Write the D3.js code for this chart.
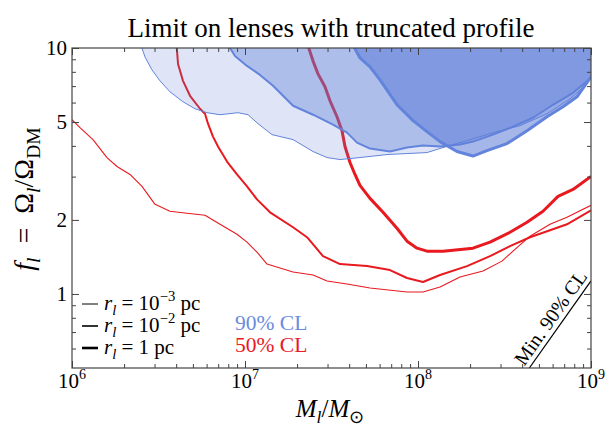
<!DOCTYPE html>
<html><head><meta charset="utf-8">
<script src="https://cdn.jsdelivr.net/npm/d3@7"></script>
<style>body{margin:0;background:#fff}svg{display:block}text{font-family:"Liberation Serif","Times New Roman",serif;fill:#000}</style>
</head><body><svg id="c" width="615" height="431"></svg>
<script>
// ---- data (M_l / M_sun , f_l) ----
const xTicks = [1e6, 1e7, 1e8, 1e9];
const xTickExp = ["6", "7", "8", "9"];
const yTicks = [1, 2, 5, 10];
const yTickLabels = ["1", "2", "5", "10"];

// 50% CL, r_l = 1e-3 pc (thin red)
const redThinM = [1e6,1.112e6,1.322e6,1.593e6,1.820e6,2.164e6,2.539e6,3.018e6,3.686e6,4.620e6,5.873e6,7.170e6,8.990e6,1.027e7,1.173e7,1.341e7,1.895e7,2.473e7,2.979e7,3.887e7,5.279e7,8.639e7,1.069e8,1.341e8,1.749e8,2.376e8,3.059e8,3.541e8,4.440e8,5.795e8,7.264e8,1e9];
const redThinF = [5.11,4.745,4.242,3.586,3.298,3.061,2.736,2.314,2.168,2.128,2.088,1.920,1.749,1.624,1.479,1.323,1.228,1.194,1.129,1.098,1.057,1.019,1.019,1.067,1.172,1.239,1.360,1.493,1.718,1.920,2.050,2.293];
// 50% CL, r_l = 1e-2 pc (medium red)
const redMedM = [4.018e6,4.101e6,4.382e6,4.810e6,5.494e6,5.873e6,6.111e6,6.531e6,6.982e6,7.870e6,8.990e6,1.027e7,1.173e7,1.395e7,1.895e7,2.283e7,2.824e7,3.541e7,5.073e7,6.889e7,8.639e7,1.069e8,1.341e8,1.920e8,2.608e8,3.403e8,4.440e8,5.795e8,7.264e8,1e9];
const redMedF = [10.38,8.614,7.353,6.393,5.662,5.405,4.924,4.362,3.974,3.455,3.061,2.736,2.424,2.148,1.867,1.701,1.425,1.323,1.298,1.251,1.161,1.118,1.194,1.298,1.425,1.564,1.701,1.816,1.920,2.188];
// 50% CL, r_l = 1 pc (thick red)
const redThickM = [2.298e7,2.473e7,2.642e7,2.900e7,3.099e7,3.402e7,3.636e7,3.784e7,4.045e7,4.323e7,4.620e7,5.279e7,6.277e7,7.559e7,8.639e7,9.867e7,1.127e8,1.395e8,2.079e8,2.608e8,3.403e8,4.267e8,5.279e8,6.446e8,7.870e8,1e9];
const redThickF = [10.38,8.858,7.847,6.953,6.102,5.254,4.613,3.974,3.423,3.061,2.763,2.447,2.148,1.850,1.639,1.535,1.493,1.493,1.535,1.624,1.782,1.956,2.168,2.493,2.661,3.004];
// 90% CL, r_l = 1e-3 pc (light region)
const blueThinM = [2.489e6,2.642e6,2.900e6,3.226e6,3.686e6,4.382e6,5.140e6,6.031e6,7.170e6,9.111e6,1.041e7,1.189e7,1.433e7,1.895e7,2.473e7,2.979e7,3.541e7,4.620e7,6.618e7,1.127e8,1.395e8,1.920e8,2.861e8,3.887e8,5.568e8,7.564e8,8.991e8,1e9];
const blueThinF = [10.38,9.196,8.146,7.353,6.635,6.045,5.662,5.456,5.355,5.456,5.355,4.924,4.444,4.242,3.794,3.586,3.520,3.586,3.688,3.757,3.937,4.203,4.571,4.833,5.405,6.217,6.888,7.630];
// 90% CL, r_l = 1e-2 pc (medium region)
const blueMedM = [7.922e6,8.753e6,1.027e7,1.221e7,1.452e7,1.895e7,2.473e7,3.226e7,3.887e7,4.440e7,5.279e7,6.889e7,8.639e7,1.069e8,1.341e8,1.749e8,2.079e8,2.713e8,3.541e8,4.620e8,6.031e8,7.870e8,1e9];
const blueMedF = [10.38,9.282,8.456,7.772,7.018,5.824,5.355,4.879,4.528,4.125,3.901,3.794,3.937,4.012,3.974,4.049,4.164,4.444,4.788,5.206,5.877,6.573,7.559];
// 90% CL, r_l = 1 pc (dark region)
const blueThickM = [4.182e7,4.620e7,5.279e7,6.031e7,7.559e7,9.357e7,1.127e8,1.341e8,1.680e8,2.079e8,2.504e8,3.268e8,4.267e8,5.568e8,6.890e8,8.300e8,1e9];
const blueThickF = [10.38,9.110,8.378,7.421,5.877,5.064,4.571,4.164,3.794,3.637,3.828,4.087,4.613,5.254,5.769,6.333,7.630];
// minimum 90% CL line
const minM = [4.4e8, 1e9];
const minF = [0.5, 1.13];

// ---- drawing ----
const RED = "#e8191f", BLUE = "#5f7dd7", BLUEL = "#6384dc";
const L = 72, R = 591, T = 48, B = 368;
const svg = d3.select("#c");
const x = d3.scaleLog().domain([1e6, 1e9]).range([L, R]);
const y = d3.scaleLog().domain([0.5, 10]).range([B, T]);
const zip = (a, b) => a.map((v, i) => [v, b[i]]);
const line = d3.line().x(d => x(d[0])).y(d => y(d[1]));
const area = d3.area().x(d => x(d[0])).y0(d => y(d[1])).y1(() => T - 30);

svg.append("clipPath").attr("id", "clip").append("rect")
  .attr("x", L).attr("y", T).attr("width", R - L).attr("height", B - T);
const plot = svg.append("g").attr("clip-path", "url(#clip)");

// red 50% CL lines
[[redThinM, redThinF, 1.1], [redMedM, redMedF, 2], [redThickM, redThickF, 3]].forEach(([m, f, w]) => {
  plot.append("path").attr("d", line(zip(m, f))).attr("fill", "none")
    .attr("stroke", RED).attr("stroke-width", w).attr("stroke-linejoin", "round");
});
// blue 90% CL regions
[[blueThinM, blueThinF, 0.2, 1], [blueMedM, blueMedF, 0.38, 2], [blueThickM, blueThickF, 0.56, 3]].forEach(([m, f, op, w]) => {
  const d = zip(m, f);
  plot.append("path").attr("d", area(d)).attr("fill", BLUE).attr("fill-opacity", op);
  plot.append("path").attr("d", line(d)).attr("fill", "none")
    .attr("stroke", BLUEL).attr("stroke-width", w).attr("stroke-linejoin", "round");
});
// min 90% CL line
const mp = zip(minM, minF);
plot.append("path").attr("d", line(mp)).attr("fill", "none").attr("stroke", "#000").attr("stroke-width", 1.2);
{
  const p1 = [x(mp[0][0]), y(mp[0][1])], p2 = [x(mp[1][0]), y(mp[1][1])];
  const dx = p2[0] - p1[0], dy = p2[1] - p1[1], len = Math.hypot(dx, dy);
  const ux = dx / len, uy = dy / len;
  const t = 0.5;
  const ang = Math.atan2(dy, dx) * 180 / Math.PI;
  svg.append("text").attr("transform", `translate(${p1[0] + dx * t + 5 * uy},${p1[1] + dy * t - 5 * ux}) rotate(${ang})`)
    .attr("text-anchor", "middle").attr("font-size", 20).text("Min. 90% CL");
}

// ---- axes ----
const minorX = [];
for (let e = 6; e < 9; e++) for (let k = 2; k <= 9; k++) minorX.push(k * Math.pow(10, e));
const minorY = [0.6, 0.7, 0.8, 0.9, 3, 4, 6, 7, 8, 9];
const TC = "#444";
function ax(gen, scale, vals, size, tr) {
  const g = svg.append("g").attr("transform", tr)
    .call(gen(scale).tickValues(vals).tickSize(size).tickFormat(""));
  g.select(".domain").remove();
  g.selectAll("line").attr("stroke", TC);
}
ax(d3.axisBottom, x, xTicks, -7, `translate(0,${B})`);
ax(d3.axisBottom, x, minorX, -4, `translate(0,${B})`);
ax(d3.axisTop, x, xTicks, -7, `translate(0,${T})`);
ax(d3.axisTop, x, minorX, -4, `translate(0,${T})`);
ax(d3.axisLeft, y, yTicks, -7, `translate(${L},0)`);
ax(d3.axisLeft, y, minorY, -4, `translate(${L},0)`);
ax(d3.axisRight, y, yTicks, -7, `translate(${R},0)`);
ax(d3.axisRight, y, minorY, -4, `translate(${R},0)`);
svg.append("rect").attr("x", L).attr("y", T).attr("width", R - L).attr("height", B - T)
  .attr("fill", "none").attr("stroke", TC).attr("stroke-width", 1.2);

// tick labels
xTicks.forEach((v, i) => {
  const t = svg.append("text").attr("x", x(v)).attr("y", 388).attr("text-anchor", "middle").attr("font-size", 21);
  t.append("tspan").text("10");
  t.append("tspan").attr("font-size", 14).attr("dy", -9).text(xTickExp[i]);
});
yTicks.forEach((v, i) => {
  svg.append("text").attr("x", 67).attr("y", y(v)).attr("dy", "0.33em").attr("text-anchor", "end")
    .attr("font-size", 21).text(yTickLabels[i]);
});

// rich text helper
function rich(sel, segs, base) {
  let cur = 0;
  segs.forEach(s => {
    const sh = s.sub ? 0.25 * base : s.sup ? -0.42 * base : 0;
    const ts = sel.append("tspan").text(s.t).attr("dy", sh - cur);
    cur = sh;
    if (s.it) ts.attr("font-style", "italic");
    if (s.sub || s.sup) ts.attr("font-size", base * 0.7);
  });
}

// title
svg.append("text").attr("x", 331).attr("y", 37).attr("text-anchor", "middle").attr("font-size", 27)
  .text("Limit on lenses with truncated profile");

// axis titles
const xt = svg.append("text").attr("x", 330).attr("y", 417).attr("text-anchor", "middle").attr("font-size", 25);
rich(xt, [{t: "M", it: 1}, {t: "l", it: 1, sub: 1}, {t: "/"}, {t: "M", it: 1}, {t: "⊙", sub: 1}], 25);
const yt = svg.append("text").attr("transform", "translate(33,199) rotate(-90)").attr("text-anchor", "middle").attr("font-size", 28);
rich(yt, [{t: "f", it: 1}, {t: "l", it: 1, sub: 1}, {t: "\u2002=\u2002Ω"}, {t: "l", it: 1, sub: 1}, {t: "/Ω"}, {t: "DM", sub: 1}], 28);

// legend
const legExp = ["−3", "−2", null];
const legW = [1, 1.6, 2.6];
const legY = [310, 332, 354];
legY.forEach((yy, i) => {
  svg.append("line").attr("x1", 82).attr("x2", 98).attr("y1", yy - 6).attr("y2", yy - 6)
    .attr("stroke", "#000").attr("stroke-width", legW[i]);
  const t = svg.append("text").attr("x", 104).attr("y", yy).attr("font-size", 21);
  const segs = [{t: "r", it: 1}, {t: "l", it: 1, sub: 1}];
  if (legExp[i]) segs.push({t: " = 10"}, {t: legExp[i], sup: 1}, {t: " pc"});
  else segs.push({t: " = 1 pc"});
  rich(t, segs, 21);
});
svg.append("text").attr("x", 235).attr("y", 330).attr("font-size", 21.5).style("fill", "#6a8be0").text("90% CL");
svg.append("text").attr("x", 235).attr("y", 352).attr("font-size", 21.5).style("fill", RED).text("50% CL");
</script></body></html>
